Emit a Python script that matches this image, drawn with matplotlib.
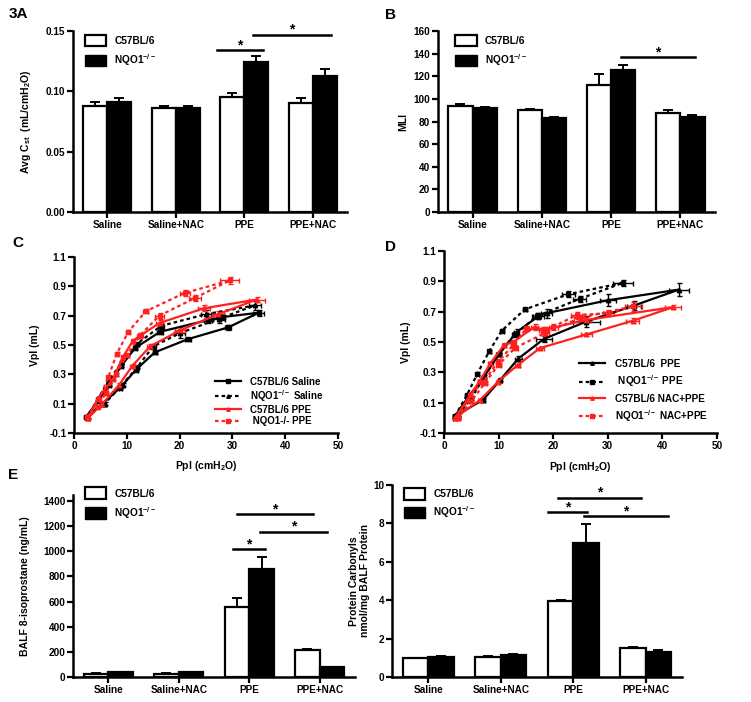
import numpy as np
import matplotlib
matplotlib.use("Agg")
from matplotlib import pyplot as plt
from matplotlib.patches import Patch
from matplotlib.lines import Line2D

plt.rcParams['font.family'] = ['Liberation Sans', 'DejaVu Sans']
plt.rcParams['font.weight'] = 'bold'
plt.rcParams['axes.labelweight'] = 'bold'
plt.rcParams['mathtext.fontset'] = 'custom'
plt.rcParams['mathtext.rm'] = 'Liberation Sans:bold'
plt.rcParams['mathtext.it'] = 'Liberation Sans:bold'
plt.rcParams['mathtext.bf'] = 'Liberation Sans:bold'

# ---------------- data ----------------
groups = ["Saline", "Saline+NAC", "PPE", "PPE+NAC"]
wt_label = "C57BL/6"
ko_label = "NQO1$^{-/-}$"

# A: average static compliance
cst_wt = [0.088, 0.086, 0.095, 0.090]
cst_wt_err = [0.0035, 0.0017, 0.004, 0.0045]
cst_ko = [0.091, 0.086, 0.124, 0.113]
cst_ko_err = [0.0035, 0.0017, 0.0055, 0.0055]
cst_sig = [(1.60, 2.27, 0.134), (2.13, 3.27, 0.147)]

# B: mean linear intercept
mli_wt = [93.7, 90.2, 112.5, 87.5]
mli_wt_err = [1.8, 1.2, 9.5, 3.0]
mli_ko = [92.0, 83.2, 125.5, 84.0]
mli_ko_err = [0.9, 0.8, 4.8, 2.0]
mli_sig = [(2.14, 3.21, 136.8)]

# E left: BALF 8-isoprostane
iso_wt = [25, 25, 554, 217]
iso_wt_err = [3, 3, 72, 4]
iso_ko = [38, 38, 859, 80]
iso_ko_err = [3, 3, 98, 3]
iso_sig = [(1.77, 2.22, 1018), (2.15, 3.10, 1156), (1.83, 2.90, 1297)]

# E right: protein carbonyls
carb_wt = [0.97, 1.03, 3.95, 1.50]
carb_wt_err = [0.04, 0.05, 0.07, 0.07]
carb_ko = [1.05, 1.15, 6.95, 1.32]
carb_ko_err = [0.06, 0.07, 0.98, 0.06]
carb_sig = [(1.65, 2.19, 8.55), (2.15, 3.30, 8.36), (1.79, 2.94, 9.31)]

# C: pressure-volume loops, saline vs PPE
c_wt_sal_x = [2.3, 5.4, 8.8, 11.7, 15.3, 21.6, 29.2, 35.0, 28.0, 25.4, 16.3, 11.6, 9.0, 6.7, 4.6, 2.3]
c_wt_sal_y = [0.01, 0.10, 0.21, 0.33, 0.45, 0.54, 0.62, 0.72, 0.69, 0.67, 0.59, 0.48, 0.36, 0.23, 0.12, 0.01]
c_wt_sal_xe = [0.3, 0.3, 0.3, 0.4, 0.4, 0.5, 0.6, 1.0, 0.6, 0.8, 0.5, 0.4, 0.3, 0.3, 0.3, 0.3]
c_wt_sal_ye = [0.005, 0.005, 0.01, 0.01, 0.01, 0.01, 0.015, 0.02, 0.02, 0.02, 0.015, 0.01, 0.01, 0.01, 0.005, 0.005]

c_ko_sal_x = [2.5, 5.8, 9.2, 12.0, 15.0, 20.0, 27.5, 34.3, 25.0, 16.5, 12.0, 9.0, 6.5, 4.5, 2.5]
c_ko_sal_y = [0.01, 0.10, 0.23, 0.35, 0.49, 0.58, 0.68, 0.77, 0.71, 0.63, 0.51, 0.38, 0.25, 0.13, 0.01]
c_ko_sal_xe = [0.3, 0.3, 0.3, 0.4, 0.5, 1.0, 1.2, 1.2, 1.0, 0.6, 0.4, 0.3, 0.3, 0.3, 0.3]
c_ko_sal_ye = [0.005, 0.01, 0.01, 0.01, 0.02, 0.03, 0.03, 0.03, 0.03, 0.02, 0.01, 0.01, 0.01, 0.005, 0.005]

c_wt_ppe_x = [2.6, 5.4, 8.6, 11.1, 14.4, 20.1, 27.3, 34.6, 24.6, 16.2, 12.4, 11.2, 9.3, 7.4, 4.6, 2.6]
c_wt_ppe_y = [0.00, 0.10, 0.23, 0.36, 0.49, 0.60, 0.71, 0.81, 0.75, 0.65, 0.56, 0.53, 0.42, 0.27, 0.14, 0.00]
c_wt_ppe_xe = [0.3, 0.3, 0.3, 0.4, 0.6, 0.9, 1.2, 1.5, 1.2, 0.6, 0.5, 0.4, 0.3, 0.3, 0.3, 0.3]
c_wt_ppe_ye = [0.005, 0.005, 0.01, 0.01, 0.02, 0.02, 0.02, 0.02, 0.02, 0.02, 0.01, 0.01, 0.01, 0.01, 0.005, 0.005]

c_ko_ppe_x = [2.5, 4.7, 6.5, 8.1, 10.3, 13.6, 21.0, 29.5, 22.9, 16.2, 12.6, 10.0, 8.0, 6.0, 4.5, 2.5]
c_ko_ppe_y = [0.01, 0.13, 0.28, 0.44, 0.59, 0.73, 0.855, 0.94, 0.82, 0.70, 0.57, 0.43, 0.30, 0.17, 0.08, 0.01]
c_ko_ppe_xe = [0.3, 0.3, 0.3, 0.3, 0.4, 0.5, 0.9, 1.8, 1.2, 0.8, 0.5, 0.4, 0.3, 0.3, 0.3, 0.3]
c_ko_ppe_ye = [0.005, 0.01, 0.01, 0.01, 0.01, 0.015, 0.02, 0.025, 0.02, 0.02, 0.01, 0.01, 0.01, 0.01, 0.005, 0.005]

# D: pressure-volume loops, PPE vs NAC+PPE
d_wt_ppe_x = [2.0, 7.2, 10.3, 13.6, 18.3, 26.1, 34.8, 43.0, 30.0, 18.8, 17.3, 13.3, 10.1, 7.3, 4.5, 2.0]
d_wt_ppe_y = [0.01, 0.12, 0.25, 0.39, 0.52, 0.635, 0.74, 0.845, 0.775, 0.69, 0.67, 0.565, 0.42, 0.27, 0.14, 0.01]
d_wt_ppe_xe = [0.3, 0.4, 0.4, 0.6, 1.5, 2.5, 1.2, 1.8, 1.5, 1.0, 1.0, 0.5, 0.4, 0.4, 0.3, 0.3]
d_wt_ppe_ye = [0.005, 0.01, 0.01, 0.015, 0.02, 0.035, 0.03, 0.045, 0.04, 0.03, 0.02, 0.02, 0.01, 0.01, 0.01, 0.005]

d_ko_ppe_x = [2.0, 4.2, 6.1, 8.3, 10.6, 14.8, 22.8, 32.8, 24.9, 17.0, 13.0, 10.0, 7.2, 5.0, 2.5]
d_ko_ppe_y = [0.01, 0.15, 0.29, 0.44, 0.575, 0.715, 0.815, 0.89, 0.785, 0.67, 0.55, 0.42, 0.26, 0.13, 0.01]
d_ko_ppe_xe = [0.3, 0.3, 0.3, 0.3, 0.4, 0.4, 1.2, 1.8, 1.2, 0.8, 0.5, 0.4, 0.3, 0.3, 0.3]
d_ko_ppe_ye = [0.005, 0.01, 0.01, 0.01, 0.01, 0.01, 0.02, 0.02, 0.02, 0.02, 0.015, 0.01, 0.01, 0.01, 0.005]

d_wt_nac_x = [2.0, 6.6, 9.9, 13.5, 17.6, 26.1, 34.6, 42.0, 26.0, 18.2, 16.6, 12.7, 11.0, 8.5, 6.5, 4.3, 2.0]
d_wt_nac_y = [0.00, 0.117, 0.238, 0.348, 0.46, 0.55, 0.64, 0.73, 0.645, 0.58, 0.60, 0.50, 0.48, 0.36, 0.24, 0.12, 0.00]
d_wt_nac_xe = [0.3, 0.4, 0.4, 0.5, 0.7, 1.0, 1.2, 1.5, 1.0, 0.8, 0.6, 0.5, 0.4, 0.4, 0.3, 0.3, 0.3]
d_wt_nac_ye = [0.005, 0.01, 0.01, 0.01, 0.01, 0.01, 0.015, 0.015, 0.02, 0.02, 0.02, 0.015, 0.015, 0.01, 0.01, 0.01, 0.005]

d_ko_nac_x = [2.6, 4.8, 7.2, 9.9, 12.7, 15.1, 18.5, 20.0, 24.3, 30.1, 34.7, 25.0, 18.5, 13.0, 10.0, 7.5, 5.0, 2.6]
d_ko_nac_y = [0.00, 0.15, 0.238, 0.37, 0.48, 0.59, 0.58, 0.60, 0.678, 0.689, 0.735, 0.66, 0.56, 0.46, 0.35, 0.23, 0.11, 0.00]
d_ko_nac_xe = [0.3, 0.3, 0.4, 0.4, 0.5, 0.5, 0.7, 0.8, 1.0, 1.0, 1.5, 1.2, 0.8, 0.5, 0.4, 0.3, 0.3, 0.3]
d_ko_nac_ye = [0.005, 0.01, 0.01, 0.015, 0.015, 0.015, 0.02, 0.02, 0.02, 0.02, 0.03, 0.02, 0.02, 0.015, 0.01, 0.01, 0.01, 0.005]

RED = "#ff2020"
DOT = (0, (1.6, 1.4))


def style_axes(ax):
    for s in ["top", "right"]:
        ax.spines[s].set_visible(False)
    for s in ["left", "bottom"]:
        ax.spines[s].set_linewidth(1.8)
    ax.tick_params(width=1.6, length=4, labelsize=7.2, pad=1.5)


def bar_panel(ax, wt, wt_err, ko, ko_err, ylim, yticks, ylabel, sig, fmt="{:g}"):
    x = np.arange(len(groups))
    w = 0.35
    ax.bar(x - w / 2, wt, w, color="white", edgecolor="black", linewidth=1.6, zorder=2)
    ax.bar(x + w / 2, ko, w, color="black", edgecolor="black", linewidth=1.6, zorder=2)
    ax.errorbar(x - w / 2, wt, yerr=[np.zeros(len(wt)), wt_err], fmt="none",
                ecolor="black", elinewidth=1.4, capsize=3.5, capthick=1.4, zorder=3)
    ax.errorbar(x + w / 2, ko, yerr=[np.zeros(len(ko)), ko_err], fmt="none",
                ecolor="black", elinewidth=1.4, capsize=3.5, capthick=1.4, zorder=3)
    ax.set_xlim(-0.5, len(groups) - 0.5)
    ax.set_ylim(*ylim)
    ax.set_yticks(yticks)
    ax.set_yticklabels([fmt.format(t) for t in yticks])
    ax.set_xticks(x)
    ax.set_xticklabels(groups, fontsize=7.5)
    ax.tick_params(axis="x", pad=3)
    ax.set_ylabel(ylabel, fontsize=7.5)
    style_axes(ax)
    for x1, x2, y in sig:
        ax.plot([x1, x2], [y, y], color="black", lw=1.8, clip_on=False, zorder=4)
        ax.annotate("*", ((x1 + x2) / 2, y), xytext=(0, 3.5), textcoords="offset points",
                    ha="center", va="center", fontsize=10, annotation_clip=False)
    handles = [Patch(facecolor="white", edgecolor="black", linewidth=1.6),
               Patch(facecolor="black", edgecolor="black")]
    return handles


def pv_series(ax, x, y, xe, ye, color, ls, marker, label):
    ax.errorbar(x, y, xerr=xe, yerr=ye, color=color, ls=ls, lw=1.6, marker=marker,
                ms=3.2, elinewidth=1.0, capsize=1.8, capthick=1.0, label=label)


def pv_axes(ax):
    ax.set_xlim(0, 50)
    ax.set_ylim(-0.1, 1.1)
    ax.set_xticks([0, 10, 20, 30, 40, 50])
    ax.set_yticks([-0.1, 0.1, 0.3, 0.5, 0.7, 0.9, 1.1])
    ax.set_yticklabels(["-0.1", "0.1", "0.3", "0.5", "0.7", "0.9", "1.1"])
    ax.set_xlabel("Ppl (cmH$_2$O)", fontsize=7.5)
    ax.set_ylabel("Vpl (mL)", fontsize=7.5)
    style_axes(ax)


fig = plt.figure(figsize=(7.51, 7.02), dpi=100)

# ---- A ----
axA = fig.add_axes([0.0972, 0.698, 0.3648, 0.2578])
h = bar_panel(axA, cst_wt, cst_wt_err, cst_ko, cst_ko_err, (0, 0.15), [0.0, 0.05, 0.10, 0.15],
              "Avg C$_{\\mathrm{st}}$  (mL/cmH$_2$O)", cst_sig, fmt="{:.2f}")
axA.legend(h, [wt_label, ko_label], loc="upper left", bbox_to_anchor=(0.01, 1.03), frameon=False,
           fontsize=7.3, handlelength=2.1, handleheight=1.4, labelspacing=0.55, handletextpad=0.8)
axA.yaxis.set_label_coords(-0.145, 0.5)

# ---- B ----
axB = fig.add_axes([0.5832, 0.698, 0.3688, 0.2578])
h = bar_panel(axB, mli_wt, mli_wt_err, mli_ko, mli_ko_err, (0, 160), list(range(0, 161, 20)),
              "MLI", mli_sig)
axB.legend(h, [wt_label, ko_label], loc="upper left", bbox_to_anchor=(0.03, 1.03), frameon=False,
           fontsize=7.3, handlelength=2.1, handleheight=1.4, labelspacing=0.55, handletextpad=0.8)
axB.yaxis.set_label_coords(-0.108, 0.5)

# ---- C ----
axC = fig.add_axes([0.0985, 0.3832, 0.3515, 0.2507])
pv_series(axC, c_wt_sal_x, c_wt_sal_y, c_wt_sal_xe, c_wt_sal_ye, "black", "-", "s", "C57BL/6 Saline")
pv_series(axC, c_ko_sal_x, c_ko_sal_y, c_ko_sal_xe, c_ko_sal_ye, "black", DOT, "^", "NQO1$^{-/-}$ Saline")
pv_series(axC, c_wt_ppe_x, c_wt_ppe_y, c_wt_ppe_xe, c_wt_ppe_ye, RED, "-", "^", "C57BL/6 PPE")
pv_series(axC, c_ko_ppe_x, c_ko_ppe_y, c_ko_ppe_xe, c_ko_ppe_ye, RED, DOT, "s", " NQO1-/- PPE")
pv_axes(axC)
axC.yaxis.set_label_coords(-0.128, 0.5)
axC.xaxis.set_label_coords(0.5, -0.15)
lh = [Line2D([], [], color="black", ls="-", lw=1.6, marker="s", ms=2.5),
      Line2D([], [], color="black", ls=DOT, lw=1.6, marker="^", ms=2.5),
      Line2D([], [], color=RED, ls="-", lw=1.6, marker="^", ms=2.5),
      Line2D([], [], color=RED, ls=DOT, lw=1.6, marker="s", ms=2.5)]
axC.legend(lh, ["C57BL/6 Saline", "NQO1$^{-/-}$ Saline", "C57BL/6 PPE", " NQO1-/- PPE"],
           loc="lower right", bbox_to_anchor=(0.98, -0.01), frameon=False, fontsize=7.0,
           handlelength=2.6, labelspacing=0.12, handletextpad=1.0)

# ---- D ----
axD = fig.add_axes([0.5912, 0.3832, 0.3635, 0.2593])
pv_series(axD, d_wt_ppe_x, d_wt_ppe_y, d_wt_ppe_xe, d_wt_ppe_ye, "black", "-", "^", "C57BL/6  PPE")
pv_series(axD, d_ko_ppe_x, d_ko_ppe_y, d_ko_ppe_xe, d_ko_ppe_ye, "black", DOT, "s", "NQO1$^{-/-}$ PPE")
pv_series(axD, d_wt_nac_x, d_wt_nac_y, d_wt_nac_xe, d_wt_nac_ye, RED, "-", "^", "C57BL/6 NAC+PPE")
pv_series(axD, d_ko_nac_x, d_ko_nac_y, d_ko_nac_xe, d_ko_nac_ye, RED, DOT, "s", "NQO1$^{-/-}$ NAC+PPE")
pv_axes(axD)
axD.yaxis.set_label_coords(-0.12, 0.5)
axD.xaxis.set_label_coords(0.5, -0.15)
lh = [Line2D([], [], color="black", ls="-", lw=1.6, marker="^", ms=2.5),
      Line2D([], [], color="black", ls=DOT, lw=1.6, marker="s", ms=2.5),
      Line2D([], [], color=RED, ls="-", lw=1.6, marker="^", ms=2.5),
      Line2D([], [], color=RED, ls=DOT, lw=1.6, marker="s", ms=2.5)]
axD.legend(lh, ["C57BL/6  PPE", " NQO1$^{-/-}$ PPE", "C57BL/6 NAC+PPE", "NQO1$^{-/-}$ NAC+PPE"],
           loc="lower right", bbox_to_anchor=(1.0, 0.0), frameon=False, fontsize=7.2,
           handlelength=2.6, labelspacing=0.45, handletextpad=1.0)

# ---- E left ----
axE1 = fig.add_axes([0.0972, 0.0356, 0.3755, 0.2597])
h = bar_panel(axE1, iso_wt, iso_wt_err, iso_ko, iso_ko_err, (0, 1450), list(range(0, 1401, 200)),
              "BALF 8-isoprostane (ng/mL)", iso_sig)
axE1.legend(h, [wt_label, ko_label], loc="upper left", bbox_to_anchor=(0.01, 1.09), frameon=False,
            fontsize=7.3, handlelength=2.1, handleheight=1.4, labelspacing=0.55, handletextpad=0.8)
axE1.yaxis.set_label_coords(-0.152, 0.5)

# ---- E right ----
axE2 = fig.add_axes([0.522, 0.0356, 0.3862, 0.2742])
h = bar_panel(axE2, carb_wt, carb_wt_err, carb_ko, carb_ko_err, (0, 10), [0, 2, 4, 6, 8, 10],
              "Protein Carbonyls\nnmol/mg BALF Protein", carb_sig)
axE2.legend(h, [wt_label, ko_label], loc="upper left", bbox_to_anchor=(0.01, 1.03), frameon=False,
            fontsize=7.3, handlelength=2.1, handleheight=1.4, labelspacing=0.45, handletextpad=0.8)
axE2.yaxis.set_label_coords(-0.075, 0.5)

# panel letters
fig.text(0.011, 0.99, "3A", fontsize=11, weight="bold", va="top")
fig.text(0.513, 0.988, "B", fontsize=11, weight="bold", va="top")
fig.text(0.016, 0.664, "C", fontsize=11, weight="bold", va="top")
fig.text(0.513, 0.658, "D", fontsize=11, weight="bold", va="top")
fig.text(0.011, 0.333, "E", fontsize=11, weight="bold", va="top")

fig.savefig("out.png", dpi=100)
